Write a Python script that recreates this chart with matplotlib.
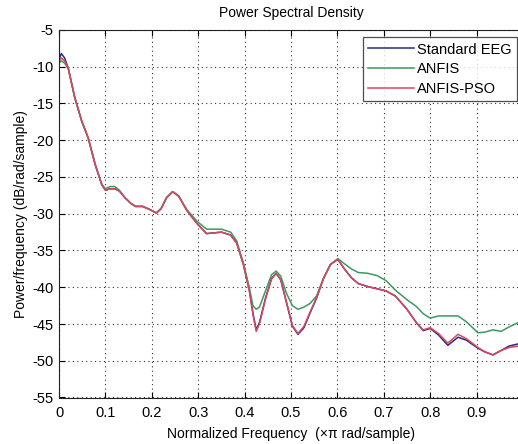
import matplotlib
matplotlib.use("Agg")
import matplotlib.pyplot as plt

plt.rcParams['font.family'] = ['Liberation Sans', 'DejaVu Sans']
plt.rcParams['axes.unicode_minus'] = False

freq = [0.000, 0.005, 0.012, 0.020, 0.034, 0.049, 0.063, 0.078, 0.092, 0.100,
        0.110, 0.120, 0.130, 0.142, 0.155, 0.165, 0.180, 0.195, 0.210, 0.220,
        0.232, 0.245, 0.258, 0.275, 0.297, 0.318, 0.335, 0.350, 0.370, 0.383,
        0.397, 0.410, 0.418, 0.425, 0.432, 0.445, 0.458, 0.468, 0.478, 0.490,
        0.503, 0.515, 0.528, 0.541, 0.555, 0.570, 0.585, 0.601, 0.615, 0.630,
        0.645, 0.665, 0.685, 0.705, 0.725, 0.750, 0.770, 0.785, 0.800, 0.818,
        0.838, 0.860, 0.878, 0.903, 0.918, 0.935, 0.953, 0.970, 0.990, 1.000]

standard_eeg = [-9.0, -8.2, -8.8, -10.2, -14.2, -17.4, -19.7, -23.3, -26.0, -26.8,
                -26.6, -26.6, -26.9, -27.8, -28.6, -29.0, -29.0, -29.4, -29.9, -29.3,
                -27.8, -27.0, -27.6, -29.5, -31.3, -32.7, -32.6, -32.5, -32.9, -34.0,
                -36.8, -40.3, -43.5, -45.8, -44.8, -41.5, -38.8, -38.1, -39.0, -42.0,
                -45.3, -46.4, -45.5, -43.5, -41.5, -38.8, -36.9, -36.2, -37.5, -38.7,
                -39.5, -39.9, -40.2, -40.5, -41.2, -43.0, -44.8, -45.9, -45.6, -46.5,
                -47.9, -46.8, -47.2, -48.3, -48.8, -49.2, -48.6, -48.0, -47.7, -47.6]

anfis = [-9.5, -9.2, -9.5, -10.3, -14.2, -17.4, -19.7, -23.3, -26.0, -26.6,
         -26.3, -26.3, -26.8, -27.8, -28.6, -29.0, -29.0, -29.4, -29.9, -29.3,
         -27.8, -27.0, -27.6, -29.4, -31.0, -32.1, -32.1, -32.1, -32.5, -33.7,
         -36.6, -40.0, -42.5, -43.0, -42.7, -40.5, -38.3, -37.8, -38.5, -40.8,
         -42.5, -43.0, -42.7, -42.2, -41.2, -38.8, -36.9, -36.1, -36.8, -37.5,
         -38.0, -38.1, -38.4, -39.1, -40.4, -41.7, -42.6, -43.6, -44.2, -43.9,
         -43.9, -43.9, -44.7, -46.2, -46.1, -45.8, -46.0, -45.4, -44.8, -44.6]

anfis_pso = [-9.3, -8.8, -9.2, -10.2, -14.2, -17.4, -19.7, -23.3, -26.0, -26.8,
             -26.6, -26.6, -26.9, -27.8, -28.6, -29.0, -29.0, -29.4, -29.9, -29.3,
             -27.8, -27.0, -27.6, -29.5, -31.3, -32.7, -32.6, -32.5, -32.9, -34.0,
             -36.8, -40.4, -43.7, -46.0, -45.0, -41.6, -38.9, -38.1, -39.0, -42.0,
             -45.2, -46.3, -45.3, -43.4, -41.4, -38.8, -36.9, -36.2, -37.5, -38.7,
             -39.5, -39.9, -40.2, -40.5, -41.2, -43.0, -44.8, -45.8, -45.5, -46.3,
             -47.6, -46.4, -47.0, -48.2, -48.8, -49.2, -48.6, -48.2, -48.0, -48.0]

series_names = ["Standard EEG", "ANFIS", "ANFIS-PSO"]
series_colors = ["#262a7e", "#3c9a5f", "#d9475f"]
x_ticks = [0, 0.1, 0.2, 0.3, 0.4, 0.5, 0.6, 0.7, 0.8, 0.9]
x_tick_labels = ["0", "0.1", "0.2", "0.3", "0.4", "0.5", "0.6", "0.7", "0.8", "0.9"]
y_ticks = [-55, -50, -45, -40, -35, -30, -25, -20, -15, -10, -5]

W, H = 518, 444
fig = plt.figure(figsize=(W / 100, H / 100), dpi=100)
left, right, top, bottom = 59, 523, 30, 397.5
ax = fig.add_axes([left / W, 1 - bottom / H, (right - left) / W, (bottom - top) / H])

for ys, name, col in zip([standard_eeg, anfis, anfis_pso], series_names, series_colors):
    ax.plot(freq, ys, color=col, lw=1.1, label=name)

ax.set_xlim(0, 1)
ax.set_ylim(-55, -5)
ax.set_xticks(x_ticks)
ax.set_xticklabels(x_tick_labels)
ax.set_yticks(y_ticks)
ax.tick_params(direction='in', top=True, right=True, labelsize=10.5, length=4, width=0.8)
ax.tick_params(axis='x', pad=6)
ax.tick_params(axis='y', pad=4)
ax.grid(True, linestyle=(0, (1, 3)), color='#333333', linewidth=0.8)
for s in ax.spines.values():
    s.set_linewidth(0.8)
    s.set_color('#222222')

ax.set_title("Power Spectral Density", fontsize=10, pad=9)
ax.set_xlabel("Normalized Frequency  (\u00d7\u03c0 rad/sample)", fontsize=10, labelpad=5)
ax.set_ylabel("Power/frequency (dB/rad/sample)", fontsize=10, labelpad=3)

leg = ax.legend(loc='upper right', bbox_to_anchor=(517 / W, 1 - 37.5 / H),
                bbox_transform=fig.transFigure, fontsize=10.5, frameon=True,
                fancybox=False, edgecolor='#222222', borderpad=0.35,
                labelspacing=0.38, handlelength=3.2, handletextpad=0.2,
                borderaxespad=0)
leg.get_frame().set_linewidth(0.9)

fig.savefig("out.png", dpi=100)
